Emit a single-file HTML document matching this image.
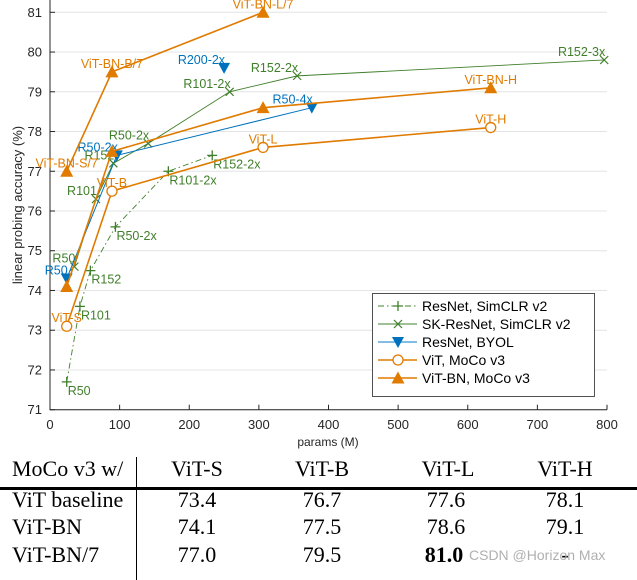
<!DOCTYPE html>
<html><head><meta charset="utf-8">
<style>
html,body{margin:0;padding:0;background:#fff;}
body{width:637px;height:580px;position:relative;overflow:hidden;font-family:"Liberation Sans",sans-serif;}
svg{position:absolute;left:0;top:0;}
.tbl{position:absolute;font-family:"Liberation Serif",serif;font-size:22px;color:#000;white-space:nowrap;}
</style></head>
<body>
<svg id="chart" width="637" height="450"></svg>

<div class="tbl" style="left:0;top:451px;width:637px;height:129px;">
  <div style="position:absolute;left:136px;top:6px;width:1px;height:123px;background:#000;"></div>
  <div style="position:absolute;left:0;top:36px;width:637px;height:3px;background:#000;"></div>
  <div style="position:absolute;left:12px;top:5px;">MoCo v3 w/</div>
  <div style="position:absolute;left:197px;top:5px;transform:translateX(-50%);">ViT-S</div>
  <div style="position:absolute;left:322px;top:5px;transform:translateX(-50%);">ViT-B</div>
  <div style="position:absolute;left:448px;top:5px;transform:translateX(-50%);">ViT-L</div>
  <div style="position:absolute;left:565px;top:5px;transform:translateX(-50%);">ViT-H</div>

  <div style="position:absolute;left:12px;top:36px;">ViT baseline</div>
  <div style="position:absolute;left:197px;top:36px;transform:translateX(-50%);">73.4</div>
  <div style="position:absolute;left:322px;top:36px;transform:translateX(-50%);">76.7</div>
  <div style="position:absolute;left:446px;top:36px;transform:translateX(-50%);">77.6</div>
  <div style="position:absolute;left:565px;top:36px;transform:translateX(-50%);">78.1</div>

  <div style="position:absolute;left:12px;top:63px;">ViT-BN</div>
  <div style="position:absolute;left:197px;top:63px;transform:translateX(-50%);">74.1</div>
  <div style="position:absolute;left:322px;top:63px;transform:translateX(-50%);">77.5</div>
  <div style="position:absolute;left:446px;top:63px;transform:translateX(-50%);">78.6</div>
  <div style="position:absolute;left:565px;top:63px;transform:translateX(-50%);">79.1</div>

  <div style="position:absolute;left:12px;top:91px;">ViT-BN/7</div>
  <div style="position:absolute;left:197px;top:91px;transform:translateX(-50%);">77.0</div>
  <div style="position:absolute;left:322px;top:91px;transform:translateX(-50%);">79.5</div>
  <div style="position:absolute;left:444px;top:91px;transform:translateX(-50%);font-weight:bold;">81.0</div>
  <div style="position:absolute;left:565px;top:91px;transform:translateX(-50%);">-</div>
  <div style="position:absolute;left:469px;top:96px;font-family:'Liberation Sans',sans-serif;font-size:14px;color:#b0b0b0;">CSDN @Horizon Max</div>
</div>

<script>
// ---- data ----
const simclrX = [24, 43, 58, 94, 170, 233];
const simclrY = [71.7, 73.6, 74.5, 75.6, 77.0, 77.4];
const simclrLabels = ["R50", "R101", "R152", "R50-2x", "R101-2x", "R152-2x"];
const skX = [35, 66, 91, 141, 258, 355, 796];
const skY = [74.6, 76.3, 77.2, 77.7, 79.0, 79.4, 79.8];
const skLabels = ["R50", "R101", "R152", "R50-2x", "R101-2x", "R152-2x", "R152-3x"];
const byolX = [24, 96, 376];
const byolY = [74.3, 77.4, 78.6];
const byolLabels = ["R50", "R50-2x", "R50-4x"];
const byolExtraX = [250];
const byolExtraY = [79.6];
const byolExtraLabels = ["R200-2x"];
const vitX = [24, 89, 306, 633];
const vitY = [73.1, 76.5, 77.6, 78.1];
const vitLabels = ["ViT-S", "ViT-B", "ViT-L", "ViT-H"];
const vitbnX = [24, 89, 306, 633];
const vitbnY = [74.1, 77.5, 78.6, 79.1];
const vitbnLabels = ["", "", "", "ViT-BN-H"];
const vitbn7X = [24, 89, 306];
const vitbn7Y = [77.0, 79.5, 81.0];
const vitbn7Labels = ["ViT-BN-S/7", "ViT-BN-B/7", "ViT-BN-L/7"];
const xTicks = [0, 100, 200, 300, 400, 500, 600, 700, 800];
const yTicks = [71, 72, 73, 74, 75, 76, 77, 78, 79, 80, 81];

// ---- scales ----
const X0 = 50, X1 = 607, Y71 = 409.7, Y81 = 12.3;
const sx = v => X0 + v / 800 * (X1 - X0);
const sy = v => Y71 - (v - 71) / 10 * (Y71 - Y81);

const GREEN = "#3f7f2a", BLUE = "#0072bd", ORANGE = "#e07b00";
const NS = "http://www.w3.org/2000/svg";
const svg = document.getElementById("chart");
function mk(tag, attrs, parent) {
  const e = document.createElementNS(NS, tag);
  for (const k in attrs) e.setAttribute(k, attrs[k]);
  (parent || svg).appendChild(e);
  return e;
}

yTicks.forEach(v => {
  const g = mk("line", {x1: X0, x2: X1, y1: sy(v), y2: sy(v), stroke: "#e4e4e4", "stroke-width": 1});
  
  
  const t = mk("text", {x: 42, y: sy(v) + 4.5, "text-anchor": "end", "font-size": 13, fill: "#262626"});
  t.textContent = v;
  
  
  mk("line", {x1: X0, x2: X0 + 5, y1: sy(v), y2: sy(v), stroke: "#262626", "stroke-width": 1});
});
xTicks.forEach(v => {
  const t = mk("text", {x: sx(v), y: 429, "text-anchor": "middle", "font-size": 13, fill: "#262626"});
  t.textContent = v;
  
  
  mk("line", {x1: sx(v), x2: sx(v), y1: Y71, y2: Y71 - 5, stroke: "#262626", "stroke-width": 1});
});
const ax = mk("path", {d: `M${X0},0 L${X0},${Y71} L${X1},${Y71}`, fill: "none", stroke: "#262626", "stroke-width": 1});


const xl = mk("text", {x: 328, y: 446, "text-anchor": "middle", "font-size": 12, fill: "#262626"});
xl.textContent = "params (M)";


const yl = mk("text", {x: 0, y: 0, "text-anchor": "middle", "font-size": 13, fill: "#262626", transform: "translate(22,205) rotate(-90)"});
yl.textContent = "linear probing accuracy (%)";



function marker(type, x, y, color, parent) {
  let e;
  if (type === "plus") e = mk("path", {d: `M${x-5},${y}H${x+5}M${x},${y-5}V${y+5}`, stroke: color, "stroke-width": 1.3, fill: "none"}, parent);
  else if (type === "cross") e = mk("path", {d: `M${x-4},${y-4}L${x+4},${y+4}M${x-4},${y+4}L${x+4},${y-4}`, stroke: color, "stroke-width": 1.2, fill: "none"}, parent);
  else if (type === "down") e = mk("path", {d: `M${x-6},${y-5}L${x+6},${y-5}L${x},${y+6}Z`, fill: color}, parent);
  else if (type === "circle") e = mk("circle", {cx: x, cy: y, r: 5, fill: "#fff", stroke: color, "stroke-width": 1.3}, parent);
  else e = mk("path", {d: `M${x-6.5},${y+5.5}L${x+6.5},${y+5.5}L${x},${y-6.5}Z`, fill: color}, parent);
  return e;
}

function series(name, xs, ys, labels, color, type, dash, width, anchor, drawLine) {
  const g = mk("g", {});
  
  
  if (drawLine) {
    const pts = xs.map((x, i) => `${sx(x)},${sy(ys[i])}`).join(" ");
    mk("polyline", {points: pts, fill: "none", stroke: color, "stroke-width": width, "stroke-dasharray": dash || "none"}, g);
  }
  xs.forEach((x, i) => {
    const m = marker(type, sx(x), sy(ys[i]), color, g);
    
    
    if (labels[i]) {
      const below = anchor === "below";
      const t = mk("text", {
        x: below ? sx(x) + 1 : (anchor === "end" ? sx(x) + 1 : sx(x)),
        y: below ? sy(ys[i]) + 13 : sy(ys[i]) - 4,
        "text-anchor": below ? "start" : anchor,
        "font-size": 12.5, fill: color
      }, g);
      t.textContent = labels[i];
      
      
    }
  });
}

series("simclr-series", simclrX, simclrY, simclrLabels, GREEN, "plus", "6,3,1.5,3", 0.9, "below", true);
series("sk-resnet-series", skX, skY, skLabels, GREEN, "cross", null, 0.9, "end", true);
series("byol-series", byolX, byolY, byolLabels, BLUE, "down", null, 1, "end", true);
series("byol-r200-point", byolExtraX, byolExtraY, byolExtraLabels, BLUE, "down", null, 1, "end", false);
series("vit-series", vitX, vitY, vitLabels, ORANGE, "circle", null, 1.6, "middle", true);
series("vit-bn-series", vitbnX, vitbnY, vitbnLabels, ORANGE, "tri", null, 1.6, "middle", true);
series("vit-bn7-series", vitbn7X, vitbn7Y, vitbn7Labels, ORANGE, "tri", null, 1.6, "middle", true);

const lg = mk("g", {});


mk("rect", {x: 372.5, y: 293.5, width: 222, height: 103, fill: "#fff", stroke: "#262626", "stroke-width": 0.8}, lg);
const legendNames = ["ResNet, SimCLR v2", "SK-ResNet, SimCLR v2", "ResNet, BYOL", "ViT, MoCo v3", "ViT-BN, MoCo v3"];
const legendStyle = [[GREEN, "plus", "6,3,1.5,3", 0.9], [GREEN, "cross", null, 0.9], ["#5aa5dc", "down", null, 1.5], [ORANGE, "circle", null, 1.6], [ORANGE, "tri", null, 1.6]];
legendNames.forEach((n, i) => {
  const y = 306 + i * 18;
  const [c, type, dash, w] = legendStyle[i];
  const e = mk("g", {}, lg);
  
  
  mk("line", {x1: 378, x2: 417, y1: y, y2: y, stroke: c, "stroke-width": w, "stroke-dasharray": dash || "none"}, e);
  marker(type, 398, y, type === "down" ? BLUE : c, e);
  const t = mk("text", {x: 422, y: y + 5, "font-size": 14, fill: "#000"}, e);
  t.textContent = n;
});
</script>
</body></html>
